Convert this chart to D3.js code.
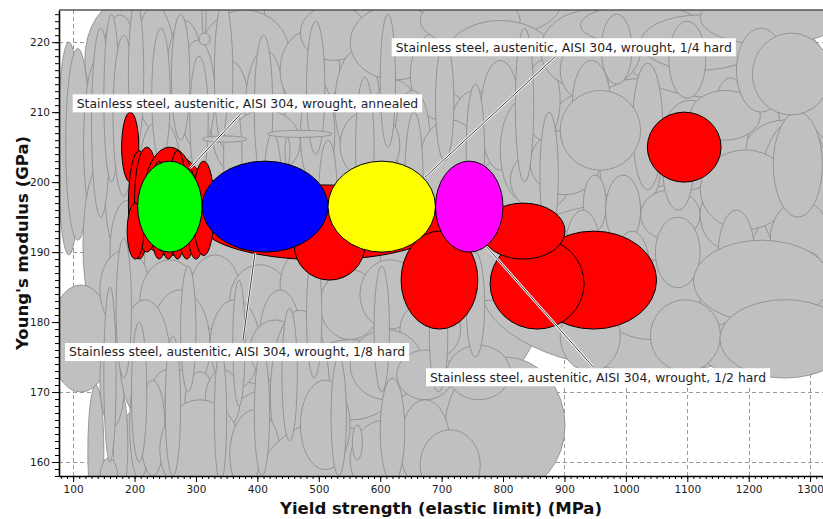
<!DOCTYPE html>
<html>
<head>
<meta charset="utf-8">
<script src="https://cdn.jsdelivr.net/npm/d3@7"></script>
<style>
  html, body { margin: 0; padding: 0; background: #fff; }
  svg { display: block; }
</style>
</head>
<body>
<svg id="chart" width="823" height="519"></svg>
<script>
// Material property bubbles: each record is [yieldLo, yieldHi, modulusLo, modulusHi]
// (yield strength in MPa, Young's modulus in GPa).

// Other materials in the database (grey background bubbles)
const backgroundRanges = [
  [119, 893, 159, 226], [681, 1333, 183, 229], [763, 1333, 173, 197.5],
  [165, 518, 152, 171.7], [706, 901, 155.5, 175], [144, 1333, 215.1, 232.3],
  [150, 420, 176, 186], [350, 700, 160, 172], [600, 900, 183, 195],
  [500, 850, 207, 218], [880, 1250, 203, 215], [950, 1300, 185, 200],
  [1000, 1320, 212, 224],
  [200, 412, 217.4, 231.7], [600, 893, 220.3, 230.3],
  [119, 250, 209, 226], [75, 111, 189.6, 220], [88, 127, 191.7, 219.1],
  [117, 160, 193.4, 217.4], [116, 184, 179, 203.2], [62, 163, 170, 185.3],
  [124, 150, 152, 171], [165, 189, 154.6, 170.3], [143.5, 184, 164.9, 178.9],
  [143.5, 173, 154.6, 160.6], [143.5, 200.5, 197.4, 211.7], [176, 241, 199, 213],
  [143.5, 209, 204.6, 223.9], [200, 266, 207.4, 225.3], [249.5, 315, 203.2, 223.1],
  [306, 453, 211.7, 224.6], [323, 388, 201.7, 217.4], [380, 445, 201.7, 218.9],
  [437, 534.5, 210.3, 221.7], [470, 579, 217.4, 225.3], [526, 600, 203.2, 218.9],
  [551, 698, 214.6, 225.3], [584, 665, 201.7, 214.6], [649, 747, 208.9, 221.7],
  [665, 828, 219.6, 226.7], [698, 893, 210.3, 223.1], [714, 795.5, 201.7, 213.1],
  [763, 828, 201.7, 217.4], [795.5, 869, 197.4, 211.7], [836, 893, 206, 217.4],
  [208.7, 274, 196, 208.9], [274, 331, 204.6, 220.3], [470, 526, 199, 214.6],
  [624, 681, 199.6, 213.1], [355, 470, 201, 210.3], [534.5, 632, 200.3, 210.3],
  [665, 763, 197.4, 208.9], [152, 192, 190.3, 207.4], [160, 217, 183.2, 197.4],
  [143.5, 225, 179, 190.3], [209, 306, 177.5, 188.9], [290, 372, 179, 189.6],
  [355, 453, 178.2, 188.2], [437, 518, 180.3, 190.3], [502, 600, 177.5, 187.5],
  [567, 665, 179, 188.9], [632, 731, 174.6, 183.2], [225, 323, 168.9, 184.6],
  [176, 258, 166, 183.2], [323, 404, 170.3, 183.2], [404, 470, 171.7, 184.6],
  [470, 632, 166, 177.5], [551, 670, 168.9, 178.9], [627, 719, 168.9, 176],
  [709, 812, 168.9, 176.7], [388, 470, 171.7, 180.3], [421, 518, 157.5, 181.7],
  [225, 282, 164.6, 173.2], [249.5, 298, 164.6, 173.2], [282, 331, 164.3, 172.9],
  [315, 372, 164.6, 173.2], [192, 225, 157.5, 173.2], [209, 249.5, 158, 171.7],
  [241, 372, 154.6, 168.9], [355, 437, 154.6, 167.5], [388, 632, 140.3, 165.7],
  [551, 665, 154.6, 166], [632, 714, 156, 168.9], [470, 551, 158.9, 171.7],
  [665, 763, 154.6, 164.6],
  [861, 1024, 213.1, 224.6], [926, 1121, 219.6, 225.3], [1024, 1219, 216, 223.9],
  [1121, 1349, 219.6, 227.4], [893, 975, 211.7, 220.3], [812, 910, 196, 204.6],
  [844, 958, 198.2, 207.4], [958, 1056, 196, 206.7], [931, 968, 192.9, 201],
  [967, 1024, 191, 201], [1024, 1121, 191.7, 198.9], [1121, 1268, 172.3, 180.3],
  [1121, 1219, 190.3, 200.3], [1187, 1333, 197.4, 208.9], [913, 975, 205.3, 217.4],
  [1011, 1060, 198.9, 217], [1141, 1200, 201.7, 214.9], [1219, 1333, 188.9, 208.9],
  [893, 1024, 201.7, 213.1], [1056, 1154, 198.9, 211.7], [1121, 1268, 193.2, 204.6],
  [1105, 1219, 206, 213.1], [958, 1121, 177.5, 188.9], [893, 991, 172.9, 183.2],
  [1040, 1154, 172.9, 183.2], [1235, 1333, 186, 197.4],
  [900, 960, 183, 196], [980, 1040, 181, 193], [1060, 1110, 196, 208],
  [1150, 1210, 183, 196], [1240, 1320, 195, 210], [1270, 1330, 176, 190],
  [1180, 1260, 210, 222], [1070, 1130, 212, 223], [960, 1010, 214, 224],
  [1048, 1121, 184.9, 195], [1110, 1333, 180, 191.7], [1153, 1365, 172, 183.2],
  [1206, 1333, 209.6, 221.3],
  [130, 160, 195, 222], [150, 175, 200, 224], [165, 200, 198, 221],
  [190, 215, 205, 226], [228, 258, 203, 222], [260, 290, 206, 224],
  [290, 320, 200, 218], [330, 360, 205, 226], [345, 375, 195, 212],
  [395, 425, 200, 221], [410, 440, 190, 207], [480, 510, 204, 223],
  [500, 530, 190, 206], [560, 590, 195, 215], [600, 625, 205, 224],
  [640, 670, 190, 210], [690, 720, 203, 220], [740, 770, 195, 214],
  [820, 850, 200, 222], [860, 890, 192, 210],
  [150, 170, 160, 185], [170, 195, 172, 192], [195, 220, 160, 180],
  [250, 275, 158, 178], [275, 300, 170, 188], [330, 350, 157, 176],
  [360, 380, 168, 186], [395, 420, 158, 176], [440, 465, 163, 182],
  [480, 505, 172, 190], [520, 545, 158, 175], [590, 615, 170, 188],
  [600, 640, 157, 172], [680, 710, 170, 186], [740, 770, 175, 190],
  [310, 316.5, 220.3, 227.4], [305, 323, 219.6, 221.3], [310, 383, 205.7, 206.6],
  [416, 522, 206.4, 207.4], [445, 453, 202.4, 206.4], [554.6, 571, 160.3, 165.3]
];

// Other austenitic stainless steels (red bubbles)
const stainlessRanges = [
  [306, 706, 188.9, 199.6], [460, 575, 186, 196], [845, 1050, 179, 193],
  [779, 932, 179, 192], [634, 759, 179, 193], [765, 901, 189, 197],
  [179, 207, 200, 210], [1035, 1155, 200, 210],
  [195, 320, 189.5, 204], [190, 225, 189, 204.5], [200, 240, 190, 205],
  [215, 300, 190.5, 205], [225, 255, 189, 203], [240, 270, 189, 202],
  [255, 285, 189, 204.5], [270, 300, 189, 202], [285, 315, 189, 201],
  [295, 330, 189.5, 203], [188, 215, 189, 197], [230, 265, 190, 200]
];

// Highlighted AISI 304 tempers
const aisi304Names = [
  "Stainless steel, austenitic, AISI 304, wrought, annealed",
  "Stainless steel, austenitic, AISI 304, wrought, 1/8 hard",
  "Stainless steel, austenitic, AISI 304, wrought, 1/4 hard",
  "Stainless steel, austenitic, AISI 304, wrought, 1/2 hard"
];
const aisi304Ranges = [
  [205, 310, 190, 203],
  [310, 515, 190, 203],
  [515, 690, 190, 203],
  [690, 800, 190, 203]
];
const aisi304Colors = ["#00ff00", "#0000ff", "#ffff00", "#ff00ff"];

// Axis ticks
const xMajorTicks = [100, 200, 300, 400, 500, 600, 700, 800, 900, 1000, 1100, 1200, 1300];
const yMajorTicks = [160, 170, 180, 190, 200, 210, 220];

// Callout placement in axis units: [boxLeft, boxTop, leaderFromX, leaderFromY, leaderToX, leaderToY]
const calloutLayout = [
  [99.3, 212.55, 374.5, 209.9, 290.3, 202.0],
  [86.8, 177.0, 376.6, 177.4, 396.2, 189.9],
  [618.7, 220.56, 884.6, 217.9, 673.0, 200.7],
  [674.6, 173.4, 946.5, 173.6, 773.9, 190.7]
];

const FONT = "'DejaVu Sans', sans-serif";
const svg = d3.select("#chart");
const plot = { left: 59, right: 823, top: 10, bottom: 476 };

const x = d3.scaleLinear().domain([77, 1321]).range([plot.left, plot.right]);
const y = d3.scaleLinear().domain([158, 224.6]).range([plot.bottom, plot.top]);

svg.append("rect").attr("width", 823).attr("height", 519).attr("fill", "#fff");

svg.append("defs").append("clipPath").attr("id", "plotClip")
  .append("rect")
  .attr("x", plot.left).attr("y", plot.top)
  .attr("width", plot.right - plot.left).attr("height", plot.bottom - plot.top);

// Dashed grid under the bubbles
const grid = svg.append("g").attr("clip-path", "url(#plotClip)")
  .attr("stroke", "#9a9a9a").attr("stroke-width", 1).attr("stroke-dasharray", "4,3");
grid.selectAll(".gx").data(xMajorTicks).join("line")
  .attr("x1", d => Math.round(x(d)) + 0.5).attr("x2", d => Math.round(x(d)) + 0.5)
  .attr("y1", plot.top).attr("y2", plot.bottom);
grid.selectAll(".gy").data(yMajorTicks).join("line")
  .attr("y1", d => Math.round(y(d)) + 0.5).attr("y2", d => Math.round(y(d)) + 0.5)
  .attr("x1", plot.left).attr("x2", plot.right);

const bubbles = svg.append("g").attr("clip-path", "url(#plotClip)");

function drawBubbles(data, fill, stroke, width) {
  const g = bubbles.append("g");
  g.selectAll("ellipse").data(data).join("ellipse")
    .attr("cx", d => (x(d[0]) + x(d[1])) / 2)
    .attr("cy", d => (y(d[2]) + y(d[3])) / 2)
    .attr("rx", d => Math.abs(x(d[1]) - x(d[0])) / 2)
    .attr("ry", d => Math.abs(y(d[3]) - y(d[2])) / 2)
    .attr("fill", typeof fill === "function" ? fill : () => fill)
    .attr("stroke", stroke)
    .attr("stroke-width", width);
}

drawBubbles(backgroundRanges, "#c0c0c0", "#8e8e8e", 0.9);
drawBubbles(stainlessRanges, "#ff0000", "#000", 1);
drawBubbles(aisi304Ranges, (d, i) => aisi304Colors[i], "#000", 1);

// Callouts
const callouts = svg.append("g").attr("clip-path", "url(#plotClip)");
calloutLayout.forEach(c => {
  const x1 = x(c[2]), y1 = y(c[3]), x2 = x(c[4]), y2 = y(c[5]);
  callouts.append("line").attr("x1", x1).attr("y1", y1).attr("x2", x2).attr("y2", y2)
    .attr("stroke", "#fff").attr("stroke-width", 2.4);
  callouts.append("line").attr("x1", x1).attr("y1", y1).attr("x2", x2).attr("y2", y2)
    .attr("stroke", "#3a3a3a").attr("stroke-width", 1);
});
calloutLayout.forEach((c, i) => {
  const bx = x(c[0]), by = y(c[1]);
  const g = callouts.append("g");
  const box = g.append("rect").attr("x", bx).attr("y", by).attr("height", 18).attr("fill", "#fff");
  const t = g.append("text").attr("x", bx + 4).attr("y", by + 13.4)
    .attr("font-family", FONT).attr("font-size", 12.4).attr("fill", "#1e1e28")
    .text(aisi304Names[i]);
  box.attr("width", t.node().getComputedTextLength() + 8);
});

// Axes
const axisFont = g => g.selectAll("text").attr("font-family", FONT).attr("font-size", 10.5).attr("fill", "#1a1a1a");

svg.append("g").attr("transform", `translate(0,${plot.bottom})`)
  .call(d3.axisBottom(x).tickValues(d3.range(80, 1321, 10)).tickSize(3).tickSizeOuter(0).tickFormat(""))
  .call(g => g.select(".domain").remove())
  .call(g => g.selectAll("line").attr("stroke", "#000"));
svg.append("g").attr("transform", `translate(0,${plot.bottom})`)
  .call(d3.axisBottom(x).tickValues(xMajorTicks).tickSize(6).tickSizeOuter(0).tickPadding(4).tickFormat(d3.format("d")))
  .call(g => g.select(".domain").attr("stroke", "#000").attr("stroke-width", 1.6))
  .call(g => g.selectAll("line").attr("stroke", "#000"))
  .call(axisFont);

svg.append("g").attr("transform", `translate(${plot.left},0)`)
  .call(d3.axisLeft(y).tickValues(d3.range(158, 225, 1)).tickSize(4).tickSizeOuter(0).tickFormat(""))
  .call(g => g.select(".domain").remove())
  .call(g => g.selectAll("line").attr("stroke", "#000"));
svg.append("g").attr("transform", `translate(${plot.left},0)`)
  .call(d3.axisLeft(y).tickValues(yMajorTicks).tickSize(7).tickSizeOuter(0).tickPadding(2).tickFormat(d3.format("d")))
  .call(g => g.select(".domain").attr("stroke", "#000").attr("stroke-width", 1.6))
  .call(g => g.selectAll("line").attr("stroke", "#000"))
  .call(axisFont);

// Top frame line
svg.append("line").attr("x1", plot.left).attr("x2", plot.right)
  .attr("y1", plot.top).attr("y2", plot.top)
  .attr("stroke", "#555").attr("stroke-width", 1.5);

// Axis titles
svg.append("text")
  .attr("x", (plot.left + plot.right) / 2).attr("y", 514)
  .attr("text-anchor", "middle")
  .attr("font-family", FONT).attr("font-weight", "bold").attr("font-size", 16.5).attr("fill", "#111")
  .text("Yield strength (elastic limit) (MPa)");
svg.append("text")
  .attr("transform", `translate(27.5,${(plot.top + plot.bottom) / 2}) rotate(-90)`)
  .attr("text-anchor", "middle")
  .attr("font-family", FONT).attr("font-weight", "bold").attr("font-size", 16.5).attr("fill", "#111")
  .text("Young's modulus (GPa)");
</script>
</body>
</html>
